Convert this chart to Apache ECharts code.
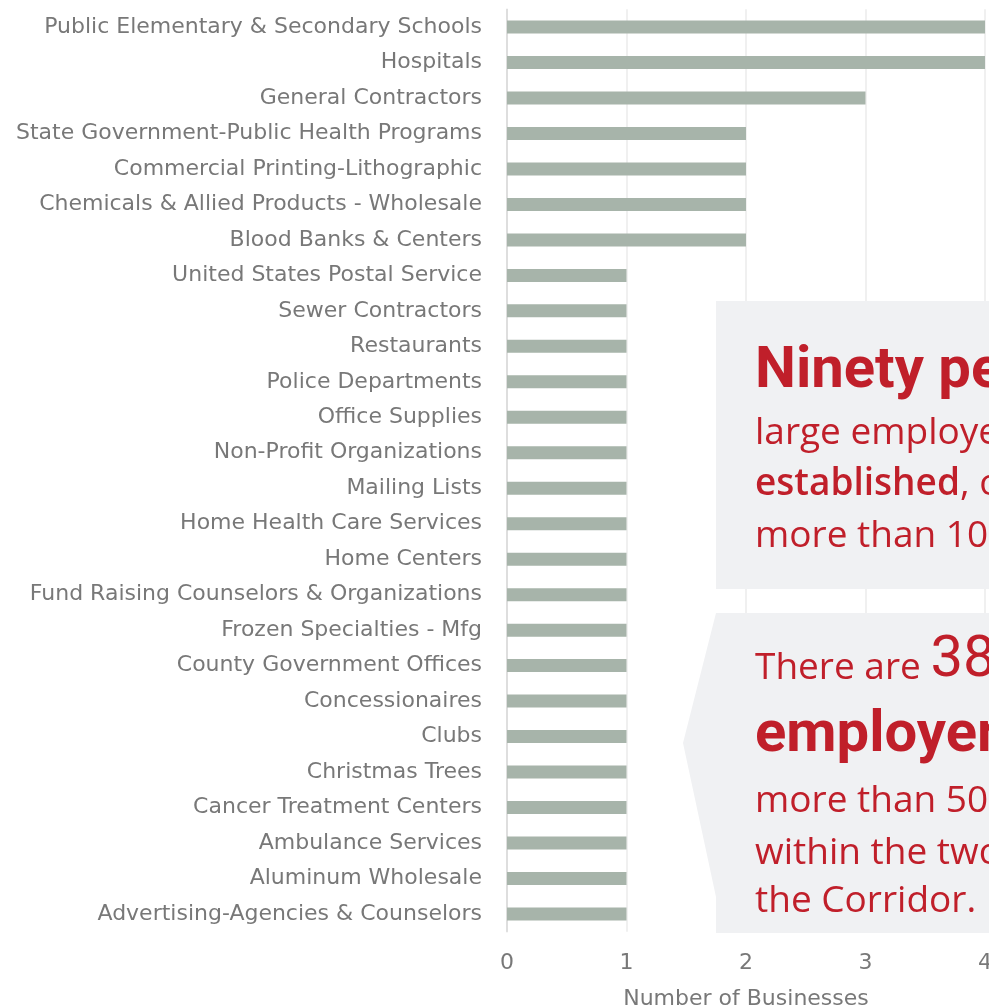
<!DOCTYPE html>
<html><head><meta charset="utf-8">
<script src="https://cdn.jsdelivr.net/npm/echarts@6/dist/echarts.min.js"></script>
<style>html,body{margin:0;padding:0;background:#fff}#c{width:989px;height:1007px}</style>
</head><body><div id="c"></div>
<script>
const categories = [
  "Public Elementary & Secondary Schools","Hospitals","General Contractors",
  "State Government-Public Health Programs","Commercial Printing-Lithographic",
  "Chemicals & Allied Products - Wholesale","Blood Banks & Centers",
  "United States Postal Service","Sewer Contractors","Restaurants","Police Departments",
  "Office Supplies","Non-Profit Organizations","Mailing Lists","Home Health Care Services",
  "Home Centers","Fund Raising Counselors & Organizations","Frozen Specialties - Mfg",
  "County Government Offices","Concessionaires","Clubs","Christmas Trees",
  "Cancer Treatment Centers","Ambulance Services","Aluminum Wholesale",
  "Advertising-Agencies & Counselors"
];
const businesses = [4,4,3,2,2,2,2,1,1,1,1,1,1,1,1,1,1,1,1,1,1,1,1,1,1,1];
const xTicks = [0,1,2,3,4];
const axisTitle = "Number of Businesses";
const callout1Lines = ["Ninety percent of the", "large employers are well", "established", ", operating for", "more than 10 years."];
const callout2Lead = "There are ";
const callout2Num = "38 large";
const callout2Lines = ["employers with", "more than 50 employees", "within the two miles of", "the Corridor."];

const LABEL_FONT = "'DejaVu Sans', sans-serif";
const FONT = "'Open Sans', sans-serif";
const HEAD_FONT = "Roboto, sans-serif";
const RED = "#c01f2a";
const BOX = "#f0f1f3";
const GREY = "#787878";

const chart = echarts.init(document.getElementById('c'), null, {renderer:'canvas'});

function measure(txt, size, weight, fam){
  const cv = document.createElement('canvas').getContext('2d');
  cv.font = weight + ' ' + size + 'px ' + fam;
  return cv.measureText(txt).width;
}

const BIG = 58, BODY = 37;
function t(x, baseline, text, size, weight, fam){
  return {type:'text', z:100, x:x, y:baseline - size*0.36,
    style:{text:text, fill:RED, font:weight+' '+size+'px '+(fam||FONT), verticalAlign:'middle', align:'left'}};
}
const tx = 755;
const graphics = [
  {type:'rect', z:90, shape:{x:716, y:301, width:400, height:288}, style:{fill:BOX}},
  {type:'polygon', z:90, shape:{points:[[716,613],[1100,613],[1100,933],[716,933],[716,897],[683,743]]}, style:{fill:BOX}},
  t(tx, 393, callout1Lines[0], BIG, 'bold', HEAD_FONT),
  t(tx, 447, callout1Lines[1], BODY, 'normal'),
  t(tx, 498, callout1Lines[2], BODY, '600'),
  t(tx + measure(callout1Lines[2], BODY, '600', FONT), 498, callout1Lines[3], BODY, 'normal'),
  t(tx, 550, callout1Lines[4], BODY, 'normal'),
  t(tx, 682, callout2Lead, BODY, 'normal'),
  t(tx + measure(callout2Lead, BODY, 'normal', FONT), 682, callout2Num, BIG, 'normal', HEAD_FONT),
  t(tx, 757, callout2Lines[0], BIG, 'bold', HEAD_FONT),
  t(tx, 815, callout2Lines[1], BODY, 'normal'),
  t(tx, 867, callout2Lines[2], BODY, 'normal'),
  t(tx, 915, callout2Lines[3], BODY, 'normal')
];

chart.setOption({
  animation:false,
  textStyle:{fontFamily:LABEL_FONT},
  grid:{left:507, right:4, top:9.3, bottom:75.3, containLabel:false, outerBoundsMode:'none'},
  xAxis:{type:'value', min:xTicks[0], max:xTicks[xTicks.length-1], interval:1,
    name:axisTitle, nameLocation:'middle', nameGap:57,
    nameTextStyle:{color:GREY, fontSize:22, fontFamily:LABEL_FONT},
    axisLine:{show:false}, axisTick:{show:false},
    axisLabel:{color:GREY, fontSize:22, margin:21, fontFamily:LABEL_FONT},
    splitLine:{show:true, lineStyle:{color:'#ebebeb', width:1.5}}},
  yAxis:{type:'category', data:categories, inverse:true,
    axisLine:{show:true, lineStyle:{color:'#d9d9d9', width:1.5}}, axisTick:{show:false},
    axisLabel:{color:GREY, fontSize:22, margin:25, fontFamily:LABEL_FONT, padding:[4,0,0,0]}},
  series:[{type:'bar', data:businesses, barWidth:13, itemStyle:{color:'#a7b4aa'}, silent:true}],
  graphic:graphics
});
</script></body></html>
